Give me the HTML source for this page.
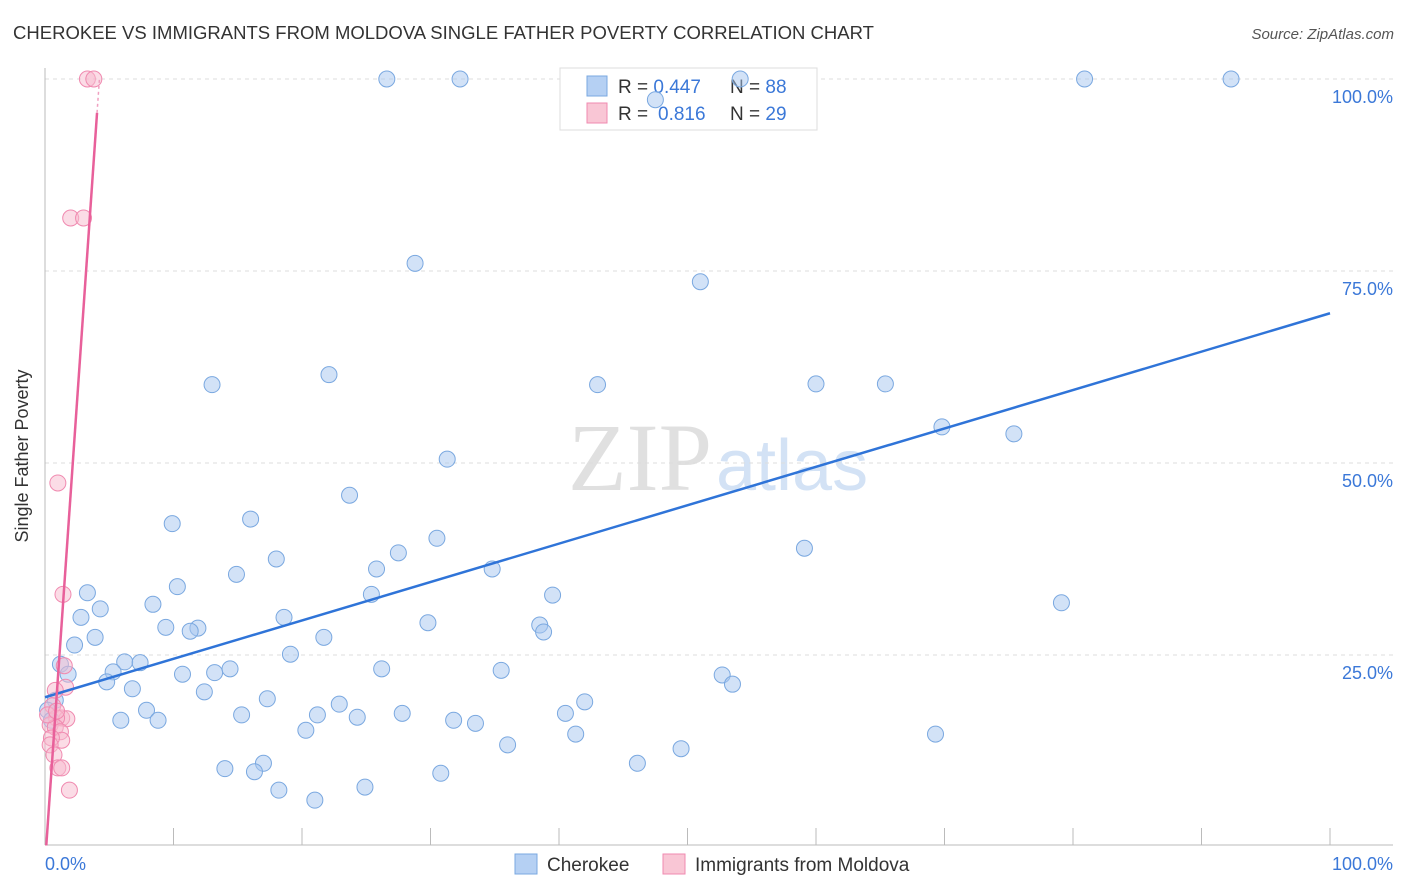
<!DOCTYPE html>
<html><head><meta charset="utf-8">
<style>
body{margin:0;background:#fff;font-family:"Liberation Sans",sans-serif;}
svg{display:block}
</style></head>
<body>
<svg id="chart" width="1406" height="892">
<text x="13" y="39" font-size="18" fill="#333" textLength="861" lengthAdjust="spacingAndGlyphs">CHEROKEE VS IMMIGRANTS FROM MOLDOVA SINGLE FATHER POVERTY CORRELATION CHART</text>
<text x="1394" y="39" font-size="15" fill="#555" font-style="italic" text-anchor="end">Source: ZipAtlas.com</text>
<text x="712" y="490" font-size="96" fill="#e0e0e0" font-family="Liberation Serif,serif" text-anchor="end">ZIP</text>
<text x="716" y="490" font-size="72" fill="#d3e2f5">atlas</text>
<g id="grid"></g>
<line x1="45" y1="68" x2="45" y2="845" stroke="#bbb"/>
<line x1="45" y1="845" x2="1393" y2="845" stroke="#bbb"/>
<g id="ticks"></g>
<text x="28" y="456" font-size="18" fill="#333" transform="rotate(-90 28 456)" text-anchor="middle">Single Father Poverty</text>
<text x="45" y="870" font-size="18" fill="#3b78d8">0.0%</text>
<text x="1393" y="870" font-size="18" fill="#3b78d8" text-anchor="end">100.0%</text>
<g>
<rect x="560" y="68" width="257" height="62" fill="#fff" stroke="#ddd"/>
<rect x="587" y="76" width="20" height="20" fill="#b5d0f3" stroke="#7aa8e0"/>
<rect x="587" y="103" width="20" height="20" fill="#f9c6d5" stroke="#f08ab0"/>
<text x="618" y="93" font-size="19" fill="#333">R = <tspan fill="#3b78d8">0.447</tspan><tspan x="730">N = </tspan><tspan fill="#3b78d8">88</tspan></text>
<text x="618" y="120" font-size="19" fill="#333">R = <tspan x="658" fill="#3b78d8">0.816</tspan><tspan x="730">N = </tspan><tspan fill="#3b78d8">29</tspan></text>
</g>
<g id="points"></g>
<g id="lines"></g>
<g>
<rect x="515" y="854" width="22" height="20" fill="#b5d0f3" stroke="#7aa8e0"/>
<text x="547" y="871" font-size="19" fill="#333">Cherokee</text>
<rect x="663" y="854" width="22" height="20" fill="#f9c6d5" stroke="#f08ab0"/>
<text x="695" y="871" font-size="19" fill="#333">Immigrants from Moldova</text>
</g>
</svg>
<script>
const yTicks=[25,50,75,100];
const yTickLabels=["25.0%","50.0%","75.0%","100.0%"];
const xTicks=[10,20,30,40,50,60,70,80,90,100];
const cherokeeX=[26.6,32.3,54.1,80.9,92.3,47.5,28.8,51.0,13.0,22.1,43.0,60.0,65.4,69.8,75.4,31.3,23.7,9.9,16.0,30.5,59.1,27.5,18.0,25.8,14.9,34.8,10.3,3.3,25.4,39.5,79.1,8.4,4.3,18.6,2.8,9.4,11.9,11.3,38.5,38.8,29.8,3.9,21.7,2.3,19.1,1.2,6.2,7.4,1.8,5.3,10.7,13.2,14.4,26.2,35.5,52.7,53.5,4.8,6.8,12.4,17.3,0.8,42.0,22.9,7.9,40.5,15.3,21.2,24.3,27.8,5.9,8.8,31.8,33.5,20.3,41.3,69.3,36.0,49.5,17.0,14.0,16.3,30.8,46.1,18.2,24.9,21.0,0.2,0.5];
const cherokeeY=[100,100,100,100,100,97.3,76.0,73.6,60.2,61.5,60.2,60.3,60.3,54.7,53.8,50.5,45.8,42.1,42.7,40.2,38.9,38.3,37.5,36.2,35.5,36.2,33.9,33.1,32.9,32.8,31.8,31.6,31.0,29.9,29.9,28.6,28.5,28.1,28.9,28.0,29.2,27.3,27.3,26.3,25.1,23.8,24.1,24.0,22.5,22.8,22.5,22.7,23.2,23.2,23.0,22.4,21.2,21.5,20.6,20.2,19.3,19.1,18.9,18.6,17.8,17.4,17.2,17.2,16.9,17.4,16.5,16.5,16.5,16.1,15.2,14.7,14.7,13.3,12.8,10.9,10.2,9.8,9.6,10.9,7.4,7.8,6.1,17.8,16.5];
const moldovaX=[3.3,3.8,2.0,3.0,1.0,1.4,1.5,1.6,0.8,0.6,1.3,1.7,0.9,0.4,0.8,1.2,1.3,0.5,0.4,0.7,1.0,1.3,1.9,0.2,0.9];
const moldovaY=[100,100,81.9,81.9,47.4,32.9,23.6,20.8,20.4,18.4,16.8,16.7,16.8,15.9,15.6,15.0,13.9,14.2,13.3,12.0,10.3,10.3,7.4,17.2,17.7];
const cherokeeTrend=[19.5,69.5];
const moldovaTrend=[0.2,95.6];
const X=v=>45+v*12.85, Y=v=>847-v*7.68;
const NS="http://www.w3.org/2000/svg";
function mk(tag,parent,attrs){const e=document.createElementNS(NS,tag);for(const k in attrs)e.setAttribute(k,attrs[k]);document.getElementById(parent).appendChild(e);return e;}
yTicks.forEach((t,i)=>{
 const l=mk('line','grid',{x1:45,x2:1393,y1:Y(t),y2:Y(t),stroke:'#ddd','stroke-dasharray':'4,4'});
 
 
 const tx=mk('text','grid',{x:1393,y:Y(t)+24,'font-size':18,fill:'#3b78d8','text-anchor':'end'});
 tx.textContent=yTickLabels[i];
 
 
});
xTicks.forEach(t=>{
 const l=mk('line','ticks',{x1:X(t),x2:X(t),y1:828,y2:845,stroke:'#bbb'});
 
 
});
cherokeeX.forEach((v,i)=>{
 const c=mk('circle','points',{cx:X(v),cy:Y(cherokeeY[i]),r:8,fill:'rgba(165,198,240,0.5)',stroke:'#7aa8e0','stroke-width':1});
 
 
});
moldovaX.forEach((v,i)=>{
 const c=mk('circle','points',{cx:X(v),cy:Y(moldovaY[i]),r:8,fill:'rgba(248,185,205,0.5)',stroke:'#f08ab0','stroke-width':1});
 
 
});
const bl=mk('line','lines',{x1:X(0),y1:Y(cherokeeTrend[0]),x2:X(100),y2:Y(cherokeeTrend[1]),stroke:'#2f74d8','stroke-width':2.5});


const slope=(moldovaTrend[1]-moldovaTrend[0])/4.05;
const pl=mk('line','lines',{x1:X(0.1),y1:Y(moldovaTrend[0]),x2:X(4.05),y2:Y(moldovaTrend[1]),stroke:'#e8609a','stroke-width':2.5});


const pd=mk('line','lines',{x1:X(4.05),y1:Y(moldovaTrend[1]),x2:X(4.05+4.4/slope),y2:Y(100),stroke:'#f0a0c0','stroke-width':1.5,'stroke-dasharray':'3,3'});


</script>
</body></html>
